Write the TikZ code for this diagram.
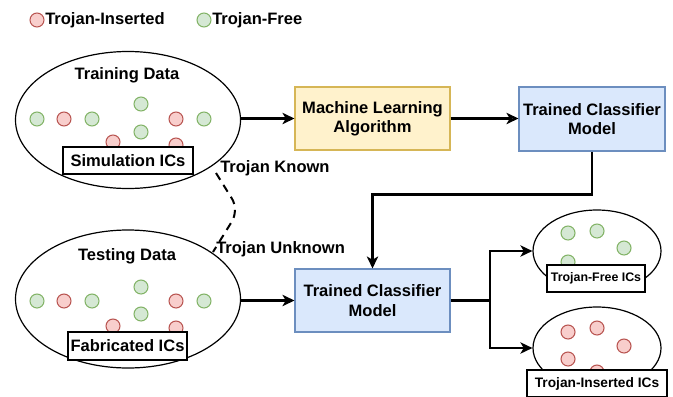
\documentclass[tikz,border=0pt]{standalone}
\usepackage{fontspec}
\setmainfont{Liberation Sans}
\usetikzlibrary{shapes.geometric,arrows.meta}
\definecolor{gfill}{HTML}{D5E8D4}
\definecolor{gline}{HTML}{82B366}
\definecolor{rfill}{HTML}{F8CECC}
\definecolor{rline}{HTML}{B85450}
\definecolor{yfill}{HTML}{FFF2CC}
\definecolor{yline}{HTML}{D6B656}
\definecolor{bfill}{HTML}{DAE8FC}
\definecolor{bline}{HTML}{6C8EBF}
\begin{document}
\begin{tikzpicture}[x=0.75pt,y=-0.75pt,
  font=\fontsize{12.4}{14.6}\selectfont\bfseries,
  gdot/.style={circle, draw=gline, fill=gfill, minimum size=10.5pt, inner sep=0pt, line width=0.8pt},
  rdot/.style={circle, draw=rline, fill=rfill, minimum size=10.5pt, inner sep=0pt, line width=0.8pt},
  region/.style={ellipse, draw=black, line width=0.9pt, inner sep=0pt},
  procbox/.style={draw=#1line, fill=#1fill, line width=0.8pt, minimum width=116.25pt, minimum height=47.25pt, align=center, inner sep=0pt},
  tagbox/.style={draw=black, fill=white, line width=1pt, inner sep=0pt},
  flow/.style={line width=1.6pt, -{Stealth[length=9pt,width=8.5pt,inset=2.5pt]}},
  flowopen/.style={line width=1.6pt, -{Stealth[open,length=9pt,width=8.5pt,inset=2.5pt]}},
  plain/.style={inner sep=0pt}]
\useasboundingbox (0,0) rectangle (673,396);

% legend
\node[rdot] (lr) at (37,20) {};
\node[plain, anchor=west] (lrt) at (45,20) {Trojan-Inserted};
\node[gdot] (lg) at (204,20) {};
\node[plain, anchor=west] (lgt) at (212,20) {Trojan-Free};

% training data
\node[region, minimum width=168.75pt, minimum height=102.75pt] (tr) at (128,120) {};
\node[plain] (trt) at (127,75) {Training Data};
\node[gdot] (t1) at (37,119) {};
\node[rdot] (t2) at (64,119) {};
\node[gdot] (t3) at (92,119) {};
\node[gdot] (t4) at (141,104) {};
\node[gdot] (t5) at (141,132) {};
\node[rdot] (t6) at (113,142) {};
\node[rdot] (t7) at (176,119) {};
\node[gdot] (t8) at (204,119) {};
\node[rdot] (t9) at (176,145) {};
\node[tagbox, minimum width=97.5pt, minimum height=20.25pt] (sim) at (128,160.5) {Simulation ICs};

% testing data
\node[region, minimum width=168.75pt, minimum height=103.5pt] (te) at (128,299) {};
\node[plain] (tet) at (127,256) {Testing Data};
\node[gdot] (s1) at (37,301) {};
\node[rdot] (s2) at (64,301) {};
\node[gdot] (s3) at (92,301) {};
\node[gdot] (s4) at (141,287) {};
\node[gdot] (s5) at (141,314) {};
\node[rdot] (s6) at (113,326) {};
\node[rdot] (s7) at (176,301) {};
\node[gdot] (s8) at (204,301) {};
\node[rdot] (s9) at (176,328) {};
\node[tagbox, minimum width=89.25pt, minimum height=21pt] (fab) at (127.5,346) {Fabricated ICs};

% process boxes
\node[procbox=y] (ml) at (372.5,118.5) {Machine Learning\\Algorithm};
\node[procbox=b, minimum width=109.5pt, minimum height=48pt] (tc1) at (592,119) {Trained Classifier\\Model};
\node[procbox=b] (tc2) at (372.5,300.5) {Trained Classifier\\Model};

% output: Trojan-free
\node[region, minimum width=96pt, minimum height=61.5pt] (tf) at (597,251) {};
\node[gdot] (f1) at (568,233) {};
\node[gdot] (f2) at (597,231) {};
\node[gdot] (f3) at (624,248) {};
\node[gdot] (f4) at (568,262) {};
\node[tagbox, minimum width=73.5pt, minimum height=20.25pt, font=\fontsize{9.3}{11}\selectfont\bfseries] (tfl) at (596,278.5) {Trojan-Free ICs};

% output: Trojan-inserted
\node[region, minimum width=96pt, minimum height=61.5pt] (ti) at (597,348) {};
\node[rdot] (i1) at (568,332) {};
\node[rdot] (i2) at (597,328) {};
\node[rdot] (i3) at (624,346) {};
\node[rdot] (i4) at (568,359) {};
\node[rdot] (i5) at (597,372) {};
\node[tagbox, minimum width=105pt, minimum height=20.25pt, font=\fontsize{10.3}{12}\selectfont\bfseries] (til) at (597,383.5) {Trojan-Inserted ICs};

% known / unknown
\coordinate (dk1) at (216,173);
\coordinate (dkm) at (239,210);
\coordinate (dk2) at (213,252);
\draw[line width=1.5pt, dash pattern=on 6pt off 4.5pt, rounded corners=10pt] (dk1) -- (dkm) -- (dk2);
\node[plain, anchor=west] (kn) at (220,168) {Trojan Known};
\node[plain, anchor=west] (ukn) at (216,249) {Trojan Unknown};

% connectors
\draw[flow] (ml.west -| tr.east) -- (ml.west);
\draw[flowopen] (ml.east) -- (tc1.west |- ml.east);
\draw[flow] (tc1.south) -- ++(0,43) -| (tc2.north);
\draw[flow] (tc2.west -| te.east) -- (tc2.west);
\coordinate (sp) at (490,300.5);
\draw[line width=1.6pt] (tc2.east) -- (sp);
\draw[flow] (sp) |- (tf.west);
\draw[flow] (sp) |- (ti.west);
\end{tikzpicture}
\end{document}
